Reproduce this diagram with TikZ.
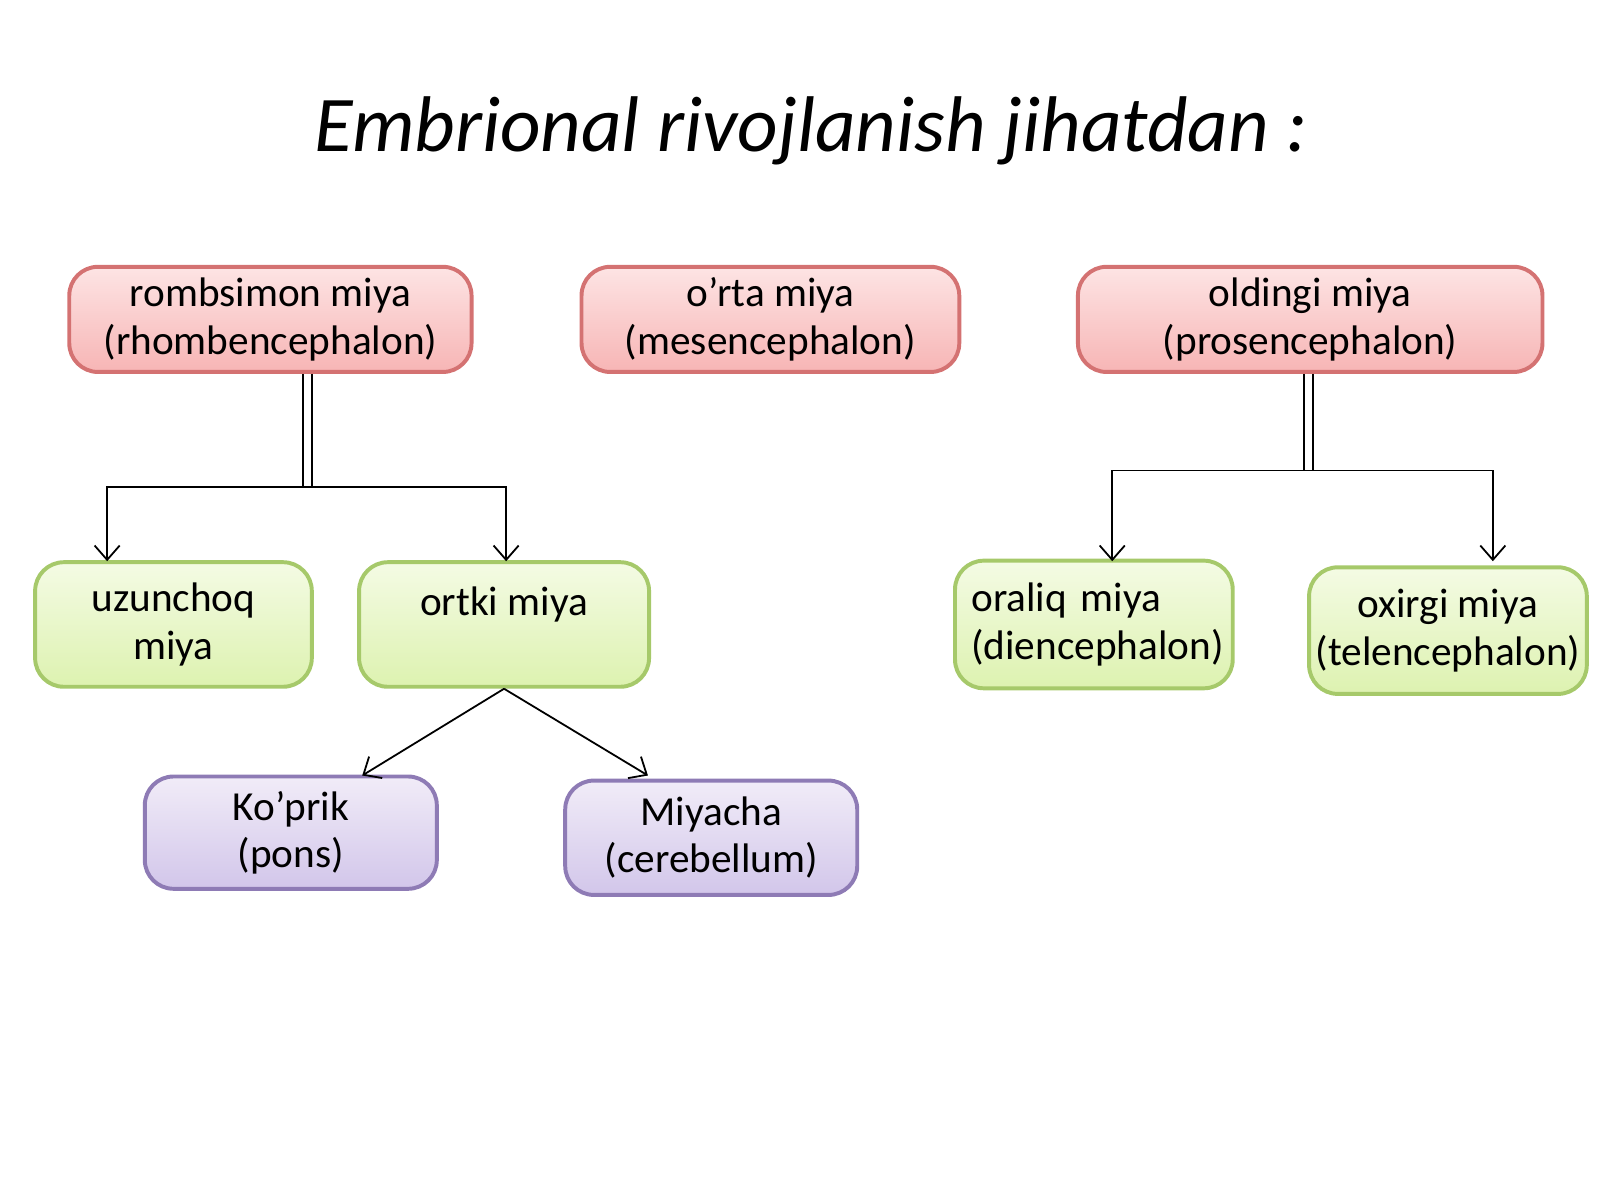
\documentclass[tikz,border=0pt]{standalone}
\usepackage{fontspec}
\setmainfont{Carlito}
\usetikzlibrary{arrows.meta}
\definecolor{redline}{HTML}{D47272}
\definecolor{redtop}{HTML}{FDE4E4}
\definecolor{redbot}{HTML}{F7B5B5}
\definecolor{greenline}{HTML}{A6C96A}
\definecolor{greentop}{HTML}{F4FBE4}
\definecolor{greenbot}{HTML}{DDF2B0}
\definecolor{violetline}{HTML}{8E7BB5}
\definecolor{violettop}{HTML}{F1ECF8}
\definecolor{violetbot}{HTML}{D2C6EA}
\tikzset{
  box/.style={draw, rounded corners=8pt, line width=1.1pt, align=center,
    inner sep=0pt, font=\fontsize{11.5}{13.2}\selectfont},
  redbox/.style={box, draw=redline, top color=redtop, bottom color=redbot},
  greenbox/.style={box, draw=greenline, top color=greentop, bottom color=greenbot},
  violetbox/.style={box, draw=violetline, top color=violettop, bottom color=violetbot},
  link/.style={draw, line width=0.5pt, -{Straight Barb[length=4pt,width=7pt]}},
  stem/.style={draw, double, double distance=2pt, line width=0.5pt},
}
\begin{document}
\begin{tikzpicture}[x=0.01cm, y=-0.01cm]
  \useasboundingbox (0,0) rectangle (1568,1176);
  \node (title) at (795,128) {\fontsize{22}{26}\selectfont\itshape Embrional rivojlanish jihatdan :};

  % top row
  \node[redbox, minimum width=3.94cm, minimum height=1.03cm] (rhomb) at (265,313) {rombsimon miya\\(rhombencephalon)};
  \node[redbox, minimum width=3.70cm, minimum height=1.03cm] (mesen) at (755,313) {o’rta miya\\(mesencephalon)};
  \node[redbox, minimum width=4.55cm, minimum height=1.03cm] (prosen) at (1284,313) {oldingi miya\\(prosencephalon)};

  % second row
  \node[greenbox, minimum width=2.71cm, minimum height=1.22cm] (medulla) at (170,612) {uzunchoq\\miya};
  \node[greenbox, minimum width=2.84cm, minimum height=1.22cm, text depth=0.45cm] (hind) at (494,612) {ortki miya};
  \node[greenbox, minimum width=2.72cm, minimum height=1.25cm, align=left, text width=2.4cm] (dien) at (1072,612) {oraliq miya\\(diencephalon)};
  \node[greenbox, minimum width=2.72cm, minimum height=1.24cm] (telen) at (1419,618) {oxirgi miya\\(telencephalon)};

  % third row
  \node[violetbox, minimum width=2.86cm, minimum height=1.10cm] (pons) at (285,816) {Ko’prik\\(pons)};
  \node[violetbox, minimum width=2.86cm, minimum height=1.12cm] (cereb) at (697,821) {Miyacha\\(cerebellum)};

  % rhombencephalon branches
  \coordinate (rj) at (301,477);
  \path[stem] (rhomb.south -| rj) -- (rj);
  \path[link] (rj) -| (105,550);
  \path[link] (rj) -| (496,550);

  % hindbrain branches
  \path[link] (hind.south) -- (355,760);
  \path[link] (hind.south) -- (635,760);

  % prosencephalon branches
  \coordinate (pj) at (1282,461);
  \path[stem] (prosen.south -| pj) -- (pj);
  \path[link] (pj) -| (1090,550);
  \path[link] (pj) -| (1463,550);
\end{tikzpicture}
\end{document}
